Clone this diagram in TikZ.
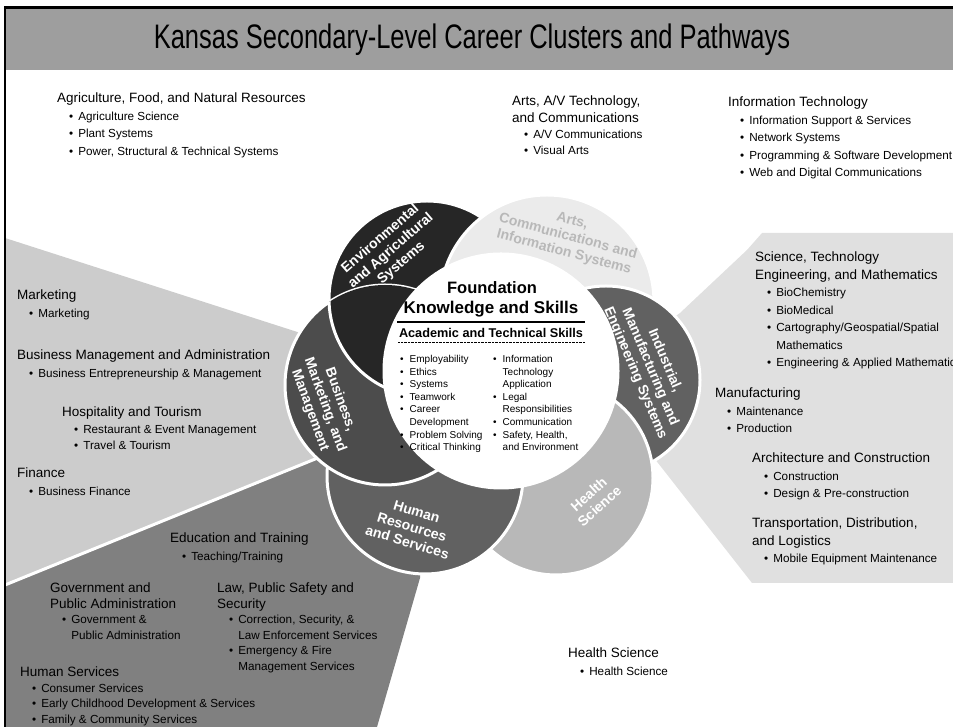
\documentclass[tikz,border=0pt]{standalone}
\usepackage{fontspec}
\setmainfont{Liberation Sans}
\newfontfamily\titlefont{Liberation Sans}[FakeStretch=0.75]

\newcommand\hd[1]{{\fontsize{13.5}{17}\selectfont #1}}
\newcommand\bul[1]{\hspace*{12pt}\textbullet\hspace{5pt}#1}
\newcommand\nob[1]{\hspace*{12pt}\phantom{\textbullet}\hspace{5pt}#1}
\newcommand\sk[1]{\textbullet\hspace{6pt}#1}
\newcommand\skc[1]{\phantom{\textbullet}\hspace{6pt}#1}

\tikzset{
	cluster/.style = {anchor = north west, inner sep = 0pt, align = left, font = \fontsize{11.7}{17.5}\selectfont},
	snug/.style = {font = \fontsize{11.7}{16.2}\selectfont},
	tight/.style = {font = \fontsize{11.7}{15.5}\selectfont},
	petal/.style = {text = white, inner sep = 0pt, align = center, font = \bfseries\fontsize{14}{16}\selectfont},
	skill/.style = {anchor = north west, inner sep = 0pt, align = left, font = \fontsize{10}{12.6}\selectfont}
}

\begin{document}
\begin{tikzpicture}[x = 1pt, y = 1pt]

	% Definitions

	\def\cx{501}		% Centre of the flower
	\def\cy{356}
	\def\R{117}			% Radius of the foundation circle

	\useasboundingbox (0, 0) rectangle (953, 727);

	% Background wedges

	\fill [black!20] (5, 489) -- (400, 362) -- (330, 274) -- (5, 142) -- cycle;
	\fill [black!50] (5, 142) -- (330, 274) -- (425, 247) -- (420, 149) -- (377, 0) -- (5, 0) -- cycle;
	\draw [white, line width = 3pt] (5, 142) -- (330, 274);
	\fill [black!12] (600, 357) -- (680, 414) -- (747, 477) -- (762, 494) -- (953, 494)
		-- (953, 144) -- (752, 144) -- (640, 287) -- cycle;

	% Title bar and frame

	\fill [black!38] (5, 657) rectangle (953, 719);
	\draw [line width = 3pt] (5, 719) -- (953, 719);
	\draw [line width = 2pt] (5, 0) -- (5, 720.5);
	\node (title) at (472, 687) {\titlefont\fontsize{34}{40}\selectfont Kansas Secondary-Level Career Clusters and Pathways};

	% Petals, each one over the one before it

	\foreach \px/\py/\pr/\pc in {427/428/98/black!85, 547/425/107/black!8, 606/347/94/black!62,
			556/249/97/black!28, 425/251/98/black!62, 385/342/100/black!70}
		\filldraw [fill = \pc, draw = white, line width = 3pt] (\px, \py) circle (\pr);

	\begin{scope}		% environmental petal closes the ring over the business petal
		\clip (385, 342) circle (100);
		\clip (0, 0) rectangle (440, 727);
		\filldraw [fill = black!85, draw = white, line width = 3pt] (427, 428) circle (98);
	\end{scope}

	\filldraw [fill = white, draw = white, line width = 3pt] (\cx, \cy) circle (\R);

	\node [petal, rotate = 41] (env) at (391, 476) {Environmental\\and Agricultural\\Systems};
	\node [petal, rotate = -15, text = black!28] (arts) at (568, 490) {Arts,\\Communications and\\Information Systems};
	\node [petal, rotate = -67] (indus) at (650, 360) {Industrial,\\Manufacturing and\\Engineering Systems};
	\node [petal, rotate = 42] (health) at (594, 227) {Health\\Science};
	\node [petal, rotate = -17] (human) at (412, 200) {Human\\Resources\\and Services};
	\node [petal, rotate = -70] (bus) at (325, 322) {Business,\\Marketing, and\\Management};

	% Foundation circle

	\node [font = \bfseries\fontsize{16.5}{18}\selectfont] (found) at (492, 439) {Foundation};
	\node [font = \bfseries\fontsize{17}{18}\selectfont] (know) at (491, 418) {Knowledge and Skills};
	\draw [line width = 1.5pt] (397, 405) -- (585, 405);
	\node [font = \bfseries\fontsize{12.7}{14}\selectfont] (acad) at (491, 394) {Academic and Technical Skills};
	\draw [densely dotted] (398, 385) -- (585, 385);

	\node [skill] (skl) at (400, 372) {\sk{Employability}\\\sk{Ethics}\\\sk{Systems}\\\sk{Teamwork}\\\sk{Career}\\
		\skc{Development}\\\sk{Problem Solving}\\\sk{Critical Thinking}};
	\node [skill] (skr) at (493, 372) {\sk{Information}\\\skc{Technology}\\\skc{Application}\\\sk{Legal}\\
		\skc{Responsibilities}\\\sk{Communication}\\\sk{Safety, Health,}\\\skc{and Environment}};

	% Clusters and pathways

	\node [cluster] (agri) at (57, 634) {\hd{Agriculture, Food, and Natural Resources}\\\bul{Agriculture Science}\\
		\bul{Plant Systems}\\\bul{Power, Structural \& Technical Systems}};
	\node [cluster, snug] (artsav) at (512, 631) {\hd{Arts, A/V Technology,}\\\hd{and Communications}\\
		\bul{A/V Communications}\\\bul{Visual Arts}};
	\node [cluster] (infotech) at (728, 630) {\hd{Information Technology}\\\bul{Information Support \& Services}\\
		\bul{Network Systems}\\\bul{Programming \& Software Development}\\\bul{Web and Digital Communications}};
	\node [cluster] (stem) at (755, 475) {\hd{Science, Technology}\\\hd{Engineering, and Mathematics}\\
		\bul{BioChemistry}\\\bul{BioMedical}\\\bul{Cartography/Geospatial/Spatial}\\\nob{Mathematics}\\
		\bul{Engineering \& Applied Mathematics}};
	\node [cluster] (manu) at (715, 339) {\hd{Manufacturing}\\\bul{Maintenance}\\\bul{Production}};
	\node [cluster] (arch) at (752, 274) {\hd{Architecture and Construction}\\\bul{Construction}\\
		\bul{Design \& Pre-construction}};
	\node [cluster] (trans) at (752, 209) {\hd{Transportation, Distribution,}\\\hd{and Logistics}\\
		\bul{Mobile Equipment Maintenance}};

	\node [cluster] (mkt) at (17, 437) {\hd{Marketing}\\\bul{Marketing}};
	\node [cluster] (bma) at (17, 377) {\hd{Business Management and Administration}\\
		\bul{Business Entrepreneurship \& Management}};
	\node [cluster, snug] (hosp) at (62, 320) {\hd{Hospitality and Tourism}\\\bul{Restaurant \& Event Management}\\
		\bul{Travel \& Tourism}};
	\node [cluster] (fin) at (17, 259) {\hd{Finance}\\\bul{Business Finance}};

	\node [cluster] (edu) at (170, 194) {\hd{Education and Training}\\\bul{Teaching/Training}};
	\node [cluster, tight] (gov) at (50, 144) {\hd{Government and}\\\hd{Public Administration}\\
		\bul{Government \&}\\\nob{Public Administration}};
	\node [cluster, tight] (law) at (217, 144) {\hd{Law, Public Safety and}\\\hd{Security}\\
		\bul{Correction, Security, \&}\\\nob{Law Enforcement Services}\\\bul{Emergency \& Fire}\\
		\nob{Management Services}};
	\node [cluster, tight] (humserv) at (20, 60) {\hd{Human Services}\\\bul{Consumer Services}\\
		\bul{Early Childhood Development \& Services}\\\bul{Family \& Community Services}};

	\node [cluster] (hlth) at (568, 79) {\hd{Health Science}\\\bul{Health Science}};

\end{tikzpicture}
\end{document}
